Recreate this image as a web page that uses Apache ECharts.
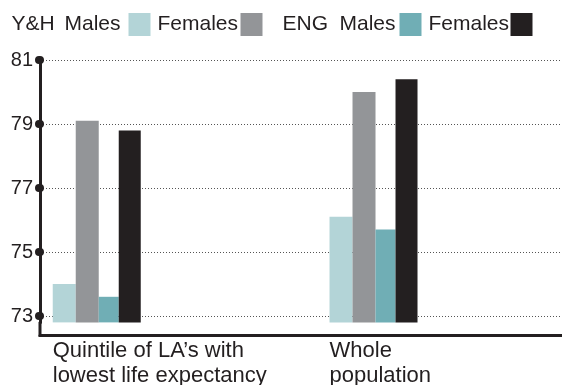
<!DOCTYPE html>
<html>
<head>
<meta charset="utf-8">
<script src="https://cdn.jsdelivr.net/npm/echarts@6/dist/echarts.min.js"></script>
<style>
  html, body { margin: 0; padding: 0; background: #fff; }
  #chart { width: 562px; height: 385px; }
</style>
</head>
<body>
<div id="chart"></div>
<script>
// Life expectancy at birth (years), by area group and sex
const categories = ['Quintile of LA\u2019s with\nlowest life expectancy', 'Whole\npopulation'];
const yhMales = [74.0, 76.1];
const yhFemales = [79.1, 80.0];
const engMales = [73.6, 75.7];
const engFemales = [78.8, 80.4];
const yTicks = [73, 75, 77, 79, 81];

const seriesNames = ['Y&H Males', 'Y&H Females', 'ENG Males', 'ENG Females'];
const seriesValues = [yhMales, yhFemales, engMales, engFemales];
const seriesColors = ['#b3d4d7', '#939598', '#70aeb5', '#231f20'];
const barWidths = [23, 23, 20, 22];

const ink = '#231f20';
const font = 'Liberation Sans, Arial, Helvetica, sans-serif';

const chart = echarts.init(document.getElementById('chart'), null, { renderer: 'canvas' });

function legendLabel(name) {
  const parts = name.split(' ');
  if (parts[1] === 'Males') {
    return '{g|' + parts[0] + '}{n|' + parts[1] + '}';
  }
  return '{f|' + parts[1] + '}';
}

// One legend block per region: "<region>  Males [swatch] Females [swatch]"
function legendFor(left, names, widths) {
  const tok = { fontSize: 21, fontFamily: font, color: ink, align: 'left' };
  return {
    left: left,
    top: 13,
    orient: 'horizontal',
    align: 'right',
    icon: 'rect',
    itemWidth: 22,
    itemHeight: 23,
    itemGap: 7,
    padding: 0,
    data: names,
    selectedMode: false,
    formatter: legendLabel,
    textStyle: {
      color: ink,
      fontFamily: font,
      fontSize: 21,
      lineHeight: 23,
      rich: {
        g: Object.assign({ width: widths[0] }, tok),
        n: Object.assign({ width: widths[1] }, tok),
        f: Object.assign({ width: widths[2] }, tok)
      }
    }
  };
}

const option = {
  backgroundColor: '#ffffff',
  animation: false,
  legend: [
    legendFor(11.5, seriesNames.slice(0, 2), [53, 59, 78]),
    legendFor(282.5, seriesNames.slice(2, 4), [57, 55, 77])
  ],
  grid: {
    left: 40, right: 0, top: 60, bottom: 62.6,
    containLabel: false,
    outerBoundsMode: 'none'
  },
  xAxis: {
    type: 'value',
    min: -0.205,
    max: 1.681,
    offset: 13,
    axisLine: { show: true, onZero: false, lineStyle: { color: ink, width: 3 } },
    axisTick: { show: false },
    splitLine: { show: false },
    axisLabel: {
      show: true,
      customValues: categories.map((c, i) => i),
      formatter: v => categories[Math.round(v)],
      align: 'left',
      padding: [0, 0, 0, -44],
      margin: 3,
      color: ink,
      fontFamily: font,
      fontSize: 22,
      lineHeight: 25
    }
  },
  yAxis: {
    type: 'value',
    min: 72.8,
    max: 81,
    axisLine: {
      show: true,
      onZero: false,
      symbol: ['rect', 'none'],
      symbolSize: [3, 15],
      symbolOffset: [-7, 0],
      lineStyle: { color: ink, width: 3 }
    },
    axisTick: {
      show: true,
      customValues: yTicks,
      length: 1,
      lineStyle: { color: ink, width: 8, cap: 'round' }
    },
    axisLabel: {
      customValues: yTicks,
      margin: 7,
      color: ink,
      fontFamily: font,
      fontSize: 20
    },
    splitLine: {
      show: true,
      lineStyle: { color: '#555555', width: 1, type: [1, 2] }
    }
  },
  series: seriesNames.map((name, s) => ({
    name: name,
    type: 'bar',
    barWidth: barWidths[s],
    barGap: '0%',
    itemStyle: { color: seriesColors[s] },
    data: seriesValues[s].map((v, i) => [i, v])
  }))
};

chart.setOption(option);
</script>
</body>
</html>
